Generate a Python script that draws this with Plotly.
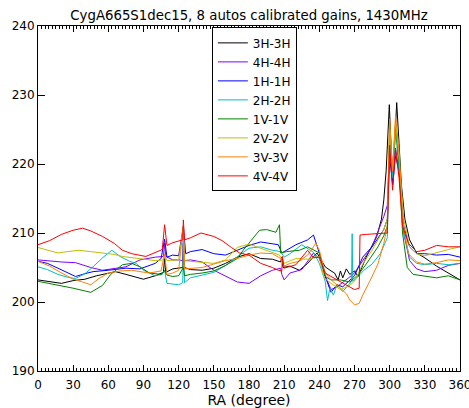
import plotly.graph_objects as go

# ---- data (RA in degrees, calibrated gain) ----
ra_3H = [0,10,20,30,40,50,60,66,75,85,90,100,107,108,109,115,120,123.5,124,125,130,140,150,160,170,180,190,200,207,208,209,215,223,230,238,245,250,253,256,258,260,263,266,270,273,280,286,289,293,295,297,299.7,301.3,302.5,304,306,308,310,313,317,323,330,340,350,360]
g_3H = [203.2,202.9,202.7,203.1,203.3,203.8,204.2,204.4,204.0,203.6,203.3,203.8,204.3,206.3,204.3,204.8,204.9,205.0,208.5,205.0,204.7,204.6,204.9,205.6,206.5,207.0,206.3,206.2,205.8,206.5,205.0,205.2,204.6,205.6,207.1,205.1,204.5,204.2,203.2,204.5,203.5,204.8,204.0,204.5,203.7,206.5,208.5,209.5,212.0,214.8,219.0,228.6,222.0,217.0,222.0,228.9,223.0,217.0,212.0,209.0,207.1,206.4,205.2,204.2,203.2]

ra_4H = [0,10,20,32,45,55,65,75,87,100,107,108,109,115,120,123.5,124,125,130,140,150,160,170,180,190,200,207,208,210,215,225,235,240,245,250,255,260,265,270,277,285,295,298,300,302.5,305,308,312,317,323,330,340,350,360]
g_4H = [206.1,205.9,205.8,205.7,205.0,204.6,204.9,205.1,206.1,206.5,206.6,208.5,206.6,206.1,206.1,206.0,210.0,206.0,206.1,205.8,204.6,203.7,202.9,202.7,203.8,204.6,204.9,204.0,203.2,204.2,204.7,207.1,206.3,203.8,201.8,202.2,202.8,203.5,204.2,206.0,208.0,212.4,214.0,222.5,217.5,222.3,219.0,210.0,206.0,204.8,204.4,204.6,205.3,205.6]

ra_1H = [0,8,17,25,32,40,47,60,75,87,100,105,108,110,115,120,124,126,130,140,150,160,170,180,190,200,205,208,212,220,230,235,240,245,250,255,260,265,270,277,285,295,298,300,302.5,305,308,312,317,323,330,340,350,360]
g_1H = [205.9,205.6,204.9,204.2,203.7,204.1,204.4,204.6,204.9,204.8,205.6,206.3,209.1,206.5,206.8,206.7,211.0,207.0,207.3,207.6,207.0,206.8,207.5,208.2,208.7,208.5,208.3,207.1,207.5,208.3,209.0,209.7,207.1,203.7,201.4,202.5,202.2,203.0,203.8,206.5,208.0,210.5,212.0,221.0,217.0,221.2,219.0,211.0,208.0,207.0,207.0,206.8,206.9,206.5]

ra_2H = [0,8,17,25,32,40,47,55,63,70,78,84,90,100,106,108,110,115,120,123.5,124,125,130,140,150,160,170,180,190,200,207,210,215,225,235,240,245,247,249,252,255,260,265,267.5,268,268.5,272,278,285,292,298,300,302.5,305,308,312,317,323,330,340,350,360]
g_2H = [205.1,204.7,204.0,203.6,203.4,204.1,205.1,206.4,207.5,206.6,205.9,205.6,204.6,203.8,204.0,204.6,202.7,202.6,202.5,202.8,209.0,202.8,203.5,203.9,204.3,205.3,206.5,207.8,208.0,207.5,207.3,206.5,207.0,208.3,207.2,205.6,203.0,200.2,202.0,201.0,202.5,201.5,202.5,203.0,209.9,203.0,203.5,204.6,205.5,207.0,209.3,224.0,218.0,225.0,219.0,210.0,206.5,205.6,205.4,205.6,205.4,205.6]

ra_1V = [0,10,17,30,40,45,55,62,72,80,87,95,105,108,110,115,120,124,125,130,140,150,160,170,175,180,189,195,203,206,207,212,223,230,240,245,250,258,266,270,273,280,290,295,298,300,302.5,305,308,311,315,320,330,340,350,360]
g_1V = [203.0,202.7,202.5,202.0,201.6,201.4,202.4,204.0,205.4,205.6,205.1,204.2,204.0,204.5,203.9,203.7,203.8,205.0,203.8,204.0,204.2,204.5,205.3,206.3,207.5,208.5,210.4,210.5,210.1,211.2,207.1,207.3,207.5,208.0,207.1,203.7,203.2,203.2,202.9,203.5,203.9,205.5,208.0,209.6,211.0,225.7,219.0,226.0,220.0,210.0,205.0,204.0,203.8,203.5,203.8,203.2]

ra_2V = [0,8,17,25,35,45,55,65,72,80,92,100,107,108,110,120,124,125,130,140,150,160,170,180,190,200,206,210,220,230,240,244,250,258,265,270,277,285,295,298,300,302.5,305,308,312,317,323,330,340,350,360]
g_2V = [207.9,207.5,207.1,207.3,207.5,207.3,207.1,206.9,206.6,206.4,206.2,206.0,206.1,206.9,206.0,206.1,211.0,206.0,205.9,205.7,205.6,206.1,207.9,208.4,207.8,207.2,206.8,205.6,206.3,206.2,206.6,203.5,202.7,201.8,202.3,203.0,205.5,207.5,210.5,212.0,225.0,219.0,226.0,221.0,212.0,208.0,207.0,206.7,207.2,207.6,208.0]

ra_3V = [0,10,17,23,30,38,45,52,60,70,80,87,95,105,108,110,115,120,124,125,130,140,150,160,170,180,190,200,205,207,210,215,223,230,237,240,245,250,257,263,266,270,274,277,283,290,295,298,300,302.5,305,308,311,316,323,330,340,350,360]
g_3V = [205.9,205.2,204.5,204.0,203.3,202.9,202.5,203.4,204.2,204.5,204.6,204.4,204.2,204.5,207.0,204.0,204.2,204.6,211.0,204.8,204.9,205.0,205.5,206.0,206.3,206.8,207.1,207.0,206.5,206.3,205.2,205.6,205.9,206.8,208.5,207.5,204.2,203.2,202.2,201.2,200.3,199.6,199.8,201.0,203.0,205.5,208.5,211.0,226.5,219.0,227.0,222.0,212.0,207.0,205.8,205.5,205.7,206.1,206.0]

ra_4V = [0,10,20,30,38,45,55,65,72,80,92,100,106,108,110,115,120,123.5,124,125,130,139,150,157,165,172,180,190,200,205,208,208.5,210,215,220,230,235,240,245,250,255,260,265,270,274,274.7,280,290,298,300,302.5,305,308,311,316,323,330,340,350,360]
g_4V = [208.3,208.9,209.8,210.4,210.7,210.3,209.5,208.5,207.5,207.0,206.6,207.2,207.6,211.2,208.2,208.6,208.9,209.0,211.9,209.0,209.3,210.0,209.5,208.9,207.9,207.1,206.8,205.6,205.0,204.6,204.5,206.6,204.9,205.2,205.4,207.5,206.4,206.5,204.2,203.7,203.2,202.8,202.3,201.8,202.0,209.7,209.8,209.9,210.0,222.7,216.2,222.0,218.0,211.0,208.5,207.3,207.5,208.2,208.0,208.0]

names = ["3H-3H", "4H-4H", "1H-1H", "2H-2H", "1V-1V", "2V-2V", "3V-3V", "4V-4V"]
colors = ["#000000", "#8000ff", "#0000ff", "#00bfbf", "#008000", "#bfbf00", "#ff8000", "#ff0000"]
series = [(ra_3H, g_3H), (ra_4H, g_4H), (ra_1H, g_1H), (ra_2H, g_2H),
          (ra_1V, g_1V), (ra_2V, g_2V), (ra_3V, g_3V), (ra_4V, g_4V)]

x_ticks = list(range(0, 361, 30))
y_ticks = [190, 200, 210, 220, 230, 240]

fig = go.Figure()
for name, col, (xs, ys) in zip(names, colors, series):
    fig.add_trace(go.Scatter(x=xs, y=ys, mode="lines", name=name,
                             line=dict(color=col, width=1)))

font = "DejaVu Sans, Arial, sans-serif"
fig.update_layout(
    width=469, height=408,
    margin=dict(l=38, r=9, t=26, b=37, autoexpand=False),
    paper_bgcolor="white", plot_bgcolor="white",
    font=dict(family=font, size=12, color="black"),
    title=dict(text="CygA665S1dec15, 8 autos calibrated gains, 1430MHz",
               xref="paper", x=0.5, xanchor="center",
               yref="container", y=0.975, yanchor="top",
               font=dict(size=13.3, family=font)),
    showlegend=True,
    legend=dict(x=0.412, y=0.996, xanchor="left", yanchor="top",
                bgcolor="white", bordercolor="black", borderwidth=1,
                font=dict(size=12, family=font), tracegroupgap=0,
                itemwidth=30),
    xaxis=dict(range=[0, 360], tickvals=x_ticks, ticks="inside", ticklen=6,
               tickcolor="black", showgrid=False, zeroline=False,
               showline=True, linecolor="black", linewidth=1, mirror="ticks",
               ticklabeloverflow="allow", ticklabelstandoff=3, automargin=False,
               minor=dict(dtick=3, ticks="inside", ticklen=3, tickcolor="black"),
               title=dict(text="RA (degree)", font=dict(size=14), standoff=3),
               tickfont=dict(size=12)),
    yaxis=dict(range=[190, 240], tickvals=y_ticks, ticks="inside", ticklen=7,
               tickcolor="black", showgrid=False, zeroline=False,
               showline=True, linecolor="black", linewidth=1, mirror="ticks",
               ticklabeloverflow="allow", automargin=False,
               tickfont=dict(size=12)),
)

# text clipped at the right page edge (as in the reference)
fig.add_annotation(text="S", xref="paper", yref="paper", x=(466 - 38) / 422,
                   y=(371 - 46) / 345, xanchor="left", yanchor="middle",
                   showarrow=False, font=dict(size=22, family=font))
fig.add_annotation(text="(", xref="paper", yref="paper", x=(466 - 38) / 422,
                   y=(371 - 104) / 345, xanchor="left", yanchor="middle",
                   showarrow=False, font=dict(size=22, family=font))

fig.write_html("out.html")
